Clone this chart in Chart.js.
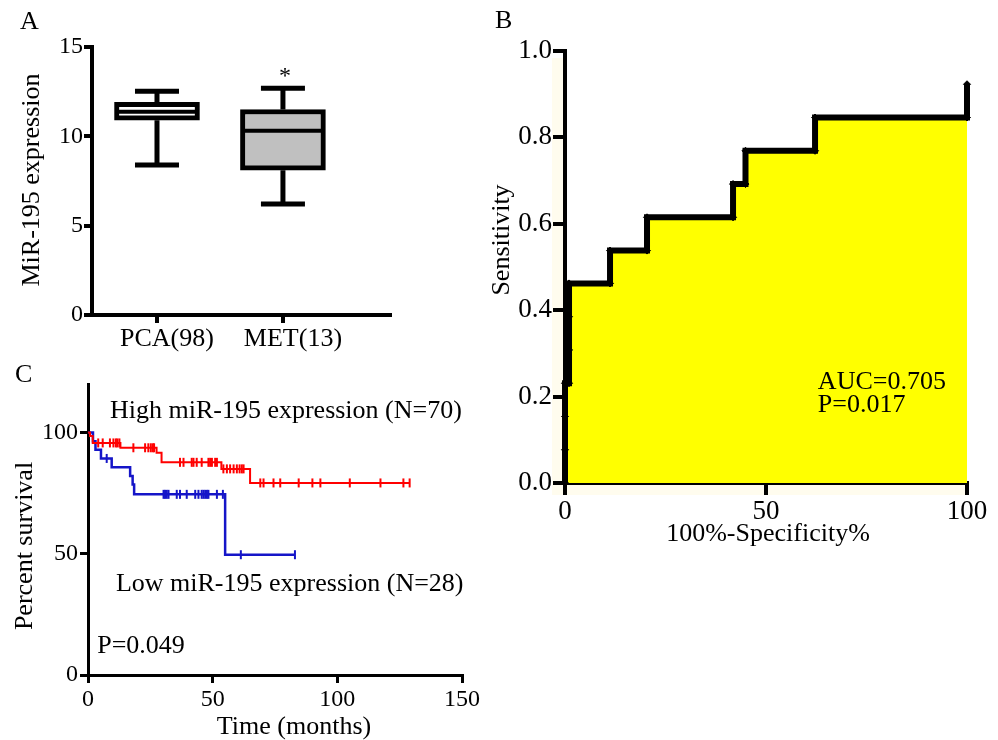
<!DOCTYPE html>
<html>
<head>
<meta charset="utf-8">
<script src="https://cdn.jsdelivr.net/npm/chart.js@4.4.0/dist/chart.umd.min.js"></script>
<style>
  html, body { margin: 0; padding: 0; background: #fff; }
  #wrap { position: relative; width: 998px; height: 740px; }
  canvas { position: absolute; left: 0; top: 0; }
</style>
</head>
<body>
<div id="wrap">
  <canvas id="boxChart" width="998" height="740"></canvas>
  <canvas id="rocChart" width="998" height="740"></canvas>
  <canvas id="kmChart" width="998" height="740"></canvas>
</div>
<script>
// Panel A - box plot
const groups = ['PCA(98)', 'MET(13)'];
const groupPos = [1, 2];
const boxLow = [10.9, 8.1];
const boxHigh = [11.9, 11.5];
const medians = [11.38, 10.31];
const whiskerMin = [8.39, 6.21];
const whiskerMax = [12.53, 12.69];
const boxFill = ['#ffffff', '#c0c0c0'];
const boxTicks = [0, 5, 10, 15];

// Panel B - ROC curve
const rocX = [0, 0, 0, 0, 1, 1, 1, 1, 11.2, 11.2, 20.4, 20.4, 41.8, 41.8, 44.9, 44.9, 62.2, 62.2, 100, 100];
const rocY = [0, 0.077, 0.154, 0.231, 0.231, 0.308, 0.385, 0.462, 0.462, 0.538, 0.538, 0.615, 0.615, 0.692, 0.692, 0.769, 0.769, 0.846, 0.846, 0.923];

// Panel C - Kaplan-Meier
const highTime = [0, 0.8, 1.9, 13, 27.5, 29.5, 53.5, 65, 129];
const highSurv = [100, 98.6, 95.7, 93.7, 91.6, 87.7, 85.0, 79.2, 79.2];
const lowTime = [0, 2, 3, 5.2, 9.5, 16.9, 17.9, 18.5, 55, 83];
const lowSurv = [100, 96.4, 92.9, 89.3, 85.7, 82.1, 78.6, 74.5, 49.6, 49.6];
const highCensorTime = [4.1, 5.9, 8.8, 10.2, 11.2, 11.8, 12.6, 18.2, 22.9, 24.2, 25.2, 26, 26.5,
  36.9, 38.3, 41.6, 42.3, 43.6, 45.6, 48.3, 49, 49.7, 51, 51.7,
  54.3, 55.7, 57, 58.4, 59.7, 60.8, 61.7, 62.4,
  69.1, 70.4, 74.4, 77.1, 84.5, 90, 93.2, 105, 117.3, 126.5, 129];
const highCensorSurv = [95.7, 95.7, 95.7, 95.7, 95.7, 95.7, 95.7, 93.7, 93.7, 93.7, 93.7, 93.7, 93.7,
  87.7, 87.7, 87.7, 87.7, 87.7, 87.7, 87.7, 87.7, 87.7, 87.7, 87.7,
  85, 85, 85, 85, 85, 85, 85, 85,
  79.2, 79.2, 79.2, 79.2, 79.2, 79.2, 79.2, 79.2, 79.2, 79.2, 79.2];
const lowCensorTime = [7.5, 30.3, 30.9, 31.6, 32.3, 35.6, 36.9, 39.6, 43, 44.3, 45.6, 46.3, 47, 47.7, 48.3, 51.7, 54.1, 61.3, 83];
const lowCensorSurv = [89.3, 74.5, 74.5, 74.5, 74.5, 74.5, 74.5, 74.5, 74.5, 74.5, 74.5, 74.5, 74.5, 74.5, 74.5, 74.5, 74.5, 49.6, 49.6];

const serif = "'Liberation Serif', 'Times New Roman', serif";
Chart.defaults.font.family = serif;
Chart.defaults.color = '#000';

const toPoints = (xs, ys) => xs.map((v, i) => ({ x: v, y: ys[i] }));

// free text: either pixel position (px, py) or data position (x, y)
function textPlugin(id, items) {
  return {
    id,
    afterDraw(chart) {
      const { ctx, scales } = chart;
      ctx.save();
      ctx.fillStyle = '#000';
      ctx.textBaseline = 'middle';
      items.forEach(t => {
        ctx.font = (t.size || 26) + 'px ' + serif;
        ctx.textAlign = t.align || 'left';
        let px = t.px, py = t.py;
        if (t.x !== undefined) {
          px = scales.x.getPixelForValue(t.x);
          py = scales.y.getPixelForValue(t.y);
        }
        ctx.save();
        ctx.translate(px, py);
        if (t.rotate) ctx.rotate(-Math.PI / 2);
        ctx.fillText(t.text, 0, 0);
        ctx.restore();
      });
      ctx.restore();
    }
  };
}

// whiskers and median lines for the boxes
const boxWhiskers = {
  id: 'boxWhiskers',
  afterDatasetsDraw(chart) {
    const { ctx, scales: { x, y } } = chart;
    ctx.save();
    ctx.strokeStyle = '#000';
    groupPos.forEach((p, i) => {
      const cx = x.getPixelForValue(p);
      const cap = 22;
      const yMax = y.getPixelForValue(whiskerMax[i]);
      const yMin = y.getPixelForValue(whiskerMin[i]);
      const yMed = y.getPixelForValue(medians[i]);
      ctx.lineWidth = 5;
      ctx.beginPath();
      ctx.moveTo(cx, y.getPixelForValue(boxHigh[i]));
      ctx.lineTo(cx, yMax);
      ctx.moveTo(cx - cap, yMax);
      ctx.lineTo(cx + cap, yMax);
      ctx.moveTo(cx, y.getPixelForValue(boxLow[i]));
      ctx.lineTo(cx, yMin);
      ctx.moveTo(cx - cap, yMin);
      ctx.lineTo(cx + cap, yMin);
      ctx.stroke();
      ctx.lineWidth = 4;
      ctx.beginPath();
      ctx.moveTo(cx - 40, yMed);
      ctx.lineTo(cx + 40, yMed);
      ctx.stroke();
    });
    ctx.restore();
  }
};

// pale backdrop around the ROC plot
const rocBackdrop = {
  id: 'rocBackdrop',
  beforeDraw(chart) {
    const { ctx, chartArea: a } = chart;
    ctx.save();
    ctx.fillStyle = '#fffcee';
    ctx.fillRect(a.left - 13, a.top + 7, a.right - a.left + 13, a.bottom - a.top + 5);
    ctx.fillStyle = '#ffffff';
    ctx.fillRect(a.left, a.top, a.right - a.left, a.bottom - a.top);
    ctx.restore();
  }
};

function axis(opts) {
  return Object.assign({
    grid: { drawOnChartArea: false, color: '#000', lineWidth: 4, tickLength: 8 },
    border: { color: '#000', width: 4 },
  }, opts);
}

// Panel A
new Chart(document.getElementById('boxChart'), {
  type: 'bar',
  data: {
    datasets: [{
      data: groupPos.map((p, i) => ({ x: p, y: [boxLow[i], boxHigh[i]] })),
      backgroundColor: boxFill,
      borderColor: '#000',
      borderWidth: 5,
      borderSkipped: false,
      barThickness: 85,
      clip: false
    }]
  },
  options: {
    responsive: false,
    animation: false,
    events: [],
    layout: { padding: { left: 0, top: 47, right: 608, bottom: 380 } },
    plugins: { legend: { display: false }, tooltip: { enabled: false } },
    scales: {
      x: axis({
        type: 'linear', min: 0.484, max: 2.85, offset: false,
        afterBuildTicks: s => { s.ticks = groupPos.map(v => ({ value: v })); },
        afterFit: s => { s.height = 45; },
        grid: { drawOnChartArea: false, offset: false, color: '#000', lineWidth: 4, tickLength: 8 },
        ticks: { font: { size: 26 }, padding: 1, labelOffset: 10, maxRotation: 0, autoSkip: false,
          callback: (v, i) => groups[i] }
      }),
      y: axis({
        min: 0, max: 15,
        afterBuildTicks: s => { s.ticks = boxTicks.map(v => ({ value: v })); },
        afterFit: s => { s.width = 92; },
        ticks: { font: { size: 24 }, padding: 1 }
      })
    }
  },
  plugins: [boxWhiskers, textPlugin('textA', [
    { text: 'A', px: 20, py: 22 },
    { text: 'MiR-195 expression', px: 32, py: 180, rotate: true, align: 'center' },
    { text: '*', x: 2.016, y: 13.35, align: 'center', size: 24 }
  ])]
});

// Panel B
new Chart(document.getElementById('rocChart'), {
  type: 'scatter',
  data: {
    datasets: [{
      data: toPoints(rocX, rocY),
      showLine: true,
      borderColor: '#000',
      borderWidth: 6,
      backgroundColor: '#ffff00',
      fill: 'origin',
      pointStyle: 'rectRot',
      pointRadius: 3.5,
      pointBorderWidth: 1,
      pointBackgroundColor: '#000',
      pointBorderColor: '#000',
      clip: false
    }]
  },
  options: {
    responsive: false,
    animation: false,
    events: [],
    layout: { padding: { left: 480, top: 51, right: 31, bottom: 187 } },
    plugins: { legend: { display: false }, tooltip: { enabled: false } },
    scales: {
      x: axis({
        min: 0, max: 100,
        afterFit: s => { s.height = 70; },
        grid: { drawOnChartArea: false, color: '#000', lineWidth: 4, tickLength: 12 },
        ticks: { stepSize: 50, font: { size: 27 }, padding: 1, maxRotation: 0 }
      }),
      y: axis({
        min: 0, max: 1,
        afterFit: s => { s.width = 85; },
        grid: { drawOnChartArea: false, color: '#000', lineWidth: 4, tickLength: 12 },
        ticks: { stepSize: 0.2, font: { size: 27 }, padding: 1, callback: v => v.toFixed(1) }
      })
    }
  },
  plugins: [rocBackdrop, textPlugin('textB', [
    { text: 'B', px: 495, py: 21 },
    { text: 'Sensitivity', px: 502, py: 240, rotate: true, align: 'center' },
    { text: '100%-Specificity%', px: 768, py: 534, align: 'center' },
    { text: 'AUC=0.705', x: 62.9, y: 0.234 },
    { text: 'P=0.017', x: 62.9, y: 0.18 }
  ])]
});

// Panel C
const tickStyle = { pointStyle: 'line', pointRotation: 90, pointRadius: 4.5, pointBorderWidth: 2, showLine: false, clip: false };
new Chart(document.getElementById('kmChart'), {
  type: 'scatter',
  data: {
    datasets: [
      { data: toPoints(highTime, highSurv), showLine: true, stepped: true, borderColor: '#ff0000', borderWidth: 2, pointRadius: 0, clip: false },
      { data: toPoints(lowTime, lowSurv), showLine: true, stepped: true, borderColor: '#1515c8', borderWidth: 2.5, pointRadius: 0, clip: false },
      Object.assign({ data: toPoints(highCensorTime, highCensorSurv), pointBorderColor: '#ff0000' }, tickStyle),
      Object.assign({ data: toPoints(lowCensorTime, lowCensorSurv), pointBorderColor: '#1515c8' }, tickStyle)
    ]
  },
  options: {
    responsive: false,
    animation: false,
    events: [],
    layout: { padding: { left: 0, top: 384, right: 536, bottom: 0 } },
    plugins: { legend: { display: false }, tooltip: { enabled: false } },
    scales: {
      x: axis({
        min: 0, max: 150,
        afterFit: s => { s.height = 65; },
        grid: { drawOnChartArea: false, color: '#000', lineWidth: 3, tickLength: 8 },
        border: { color: '#000', width: 3 },
        ticks: { stepSize: 50, font: { size: 24 }, padding: 2, maxRotation: 0 }
      }),
      y: axis({
        min: 0, max: 120,
        afterFit: s => { s.width = 88; },
        grid: { drawOnChartArea: false, color: '#000', lineWidth: 3, tickLength: 8 },
        border: { color: '#000', width: 3 },
        ticks: { stepSize: 50, includeBounds: false, font: { size: 24 }, padding: 2 }
      })
    }
  },
  plugins: [textPlugin('textC', [
    { text: 'C', px: 15, py: 375 },
    { text: 'Percent survival', px: 25, py: 546, rotate: true, align: 'center' },
    { text: 'Time (months)', px: 294, py: 727, align: 'center' },
    { text: 'High miR-195 expression (N=70)', x: 8.8, y: 108.7 },
    { text: 'Low miR-195 expression (N=28)', x: 11.2, y: 37.6 },
    { text: 'P=0.049', x: 3.7, y: 11.7 }
  ])]
});
</script>
</body>
</html>
